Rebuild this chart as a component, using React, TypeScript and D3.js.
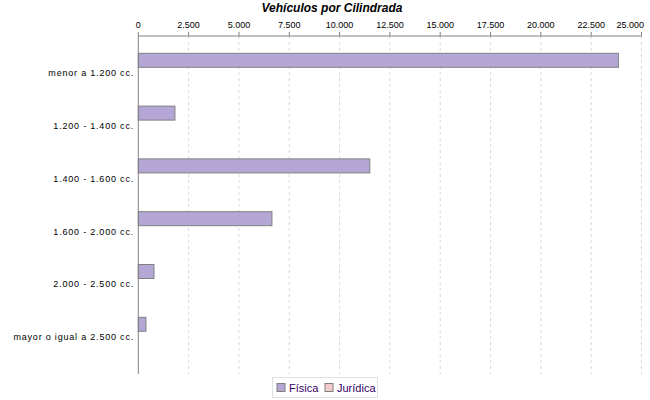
import React from 'react';
import * as d3 from 'd3';

const categories = [
  'menor a 1.200 cc.',
  '1.200 - 1.400 cc.',
  '1.400 - 1.600 cc.',
  '1.600 - 2.000 cc.',
  '2.000 - 2.500 cc.',
  'mayor o igual a 2.500 cc.',
];
const series = ['Física', 'Jurídica'];
const fisica = [23850, 1820, 11500, 6640, 780, 380];
const juridica = [0, 0, 0, 0, 0, 0];
const xTicks = [0, 2500, 5000, 7500, 10000, 12500, 15000, 17500, 20000, 22500, 25000];

const colors = ['#b4a7d6', '#f4cccc'];
const fmt = (v: number) => d3.format(',')(v).replace(/,/g, '.');

const App: React.FC = () => {
  const width = 650;
  const height = 400;
  const margin = { top: 36, right: 8.5, bottom: 26, left: 138.3 };

  const x = d3
    .scaleLinear()
    .domain([0, 25000])
    .range([margin.left, width - margin.right]);

  const y = d3
    .scaleBand<string>()
    .domain(categories)
    .range([margin.top, height - margin.bottom])
    .paddingInner(0.47)
    .paddingOuter(0.436)
    .align(0.376);

  const sub = d3.scaleBand<string>().domain(series).range([0, y.bandwidth()]);

  const values = [fisica, juridica];
  const font = '"Liberation Sans", Arial, sans-serif';
  const lastTick = xTicks[xTicks.length - 1];

  return (
    <svg
      width={width}
      height={height}
      style={{ position: 'absolute', left: 0, top: 0, background: '#fff' }}
      fontFamily={font}
    >
      <text
        x={332}
        y={12}
        textAnchor="middle"
        fontSize={12}
        fontWeight="bold"
        fontStyle="italic"
        fill="#000"
      >
        Vehículos por Cilindrada
      </text>

      {/* grid */}
      {xTicks.slice(1).map((t) => (
        <line
          key={'g' + t}
          x1={x(t)}
          x2={x(t)}
          y1={margin.top}
          y2={height - margin.bottom}
          stroke="#d8d8d8"
          strokeWidth={1}
          strokeDasharray="3,3"
        />
      ))}

      {/* top axis */}
      <line x1={x(0)} x2={x(lastTick)} y1={margin.top} y2={margin.top} stroke="#808080" />
      {xTicks.map((t) => (
        <g key={'t' + t}>
          <line x1={x(t)} x2={x(t)} y1={margin.top - 4} y2={margin.top} stroke="#808080" />
          <text
            x={t === lastTick ? width - 6 : x(t)}
            y={28}
            textAnchor={t === lastTick ? 'end' : 'middle'}
            fontSize={9}
            fill="#000"
          >
            {fmt(t)}
          </text>
        </g>
      ))}

      {/* bars */}
      {categories.map((c, i) =>
        series.map((s, j) => {
          const w = x(values[j][i]) - x(0);
          if (w <= 0) return null;
          return (
            <rect
              key={c + s}
              x={x(0)}
              y={(y(c) ?? 0) + (sub(s) ?? 0)}
              width={w}
              height={sub.bandwidth()}
              fill={colors[j]}
              stroke="#808080"
              strokeWidth={1}
            />
          );
        })
      )}

      {/* left axis */}
      <line
        x1={x(0)}
        x2={x(0)}
        y1={margin.top}
        y2={height - margin.bottom}
        stroke="#808080"
      />
      {categories.map((c) => (
        <text
          key={'l' + c}
          x={134}
          y={(y(c) ?? 0) + 23}
          textAnchor="end"
          fontSize={9}
          letterSpacing={0.8}
          fill="#000"
        >
          {c}
        </text>
      ))}

      {/* legend */}
      <rect x={272.5} y={377.5} width={105} height={20} fill="#fff" stroke="#e0e0e0" />
      {series.map((s, j) => {
        const lx = j === 0 ? 277 : 325;
        return (
          <g key={'lg' + s}>
            <rect x={lx} y={383.5} width={8} height={8} fill={colors[j]} stroke="#808080" />
            <text x={lx + 12} y={391.5} fontSize={11} fill="#330066">
              {s}
            </text>
          </g>
        );
      })}
    </svg>
  );
};

export default App;
